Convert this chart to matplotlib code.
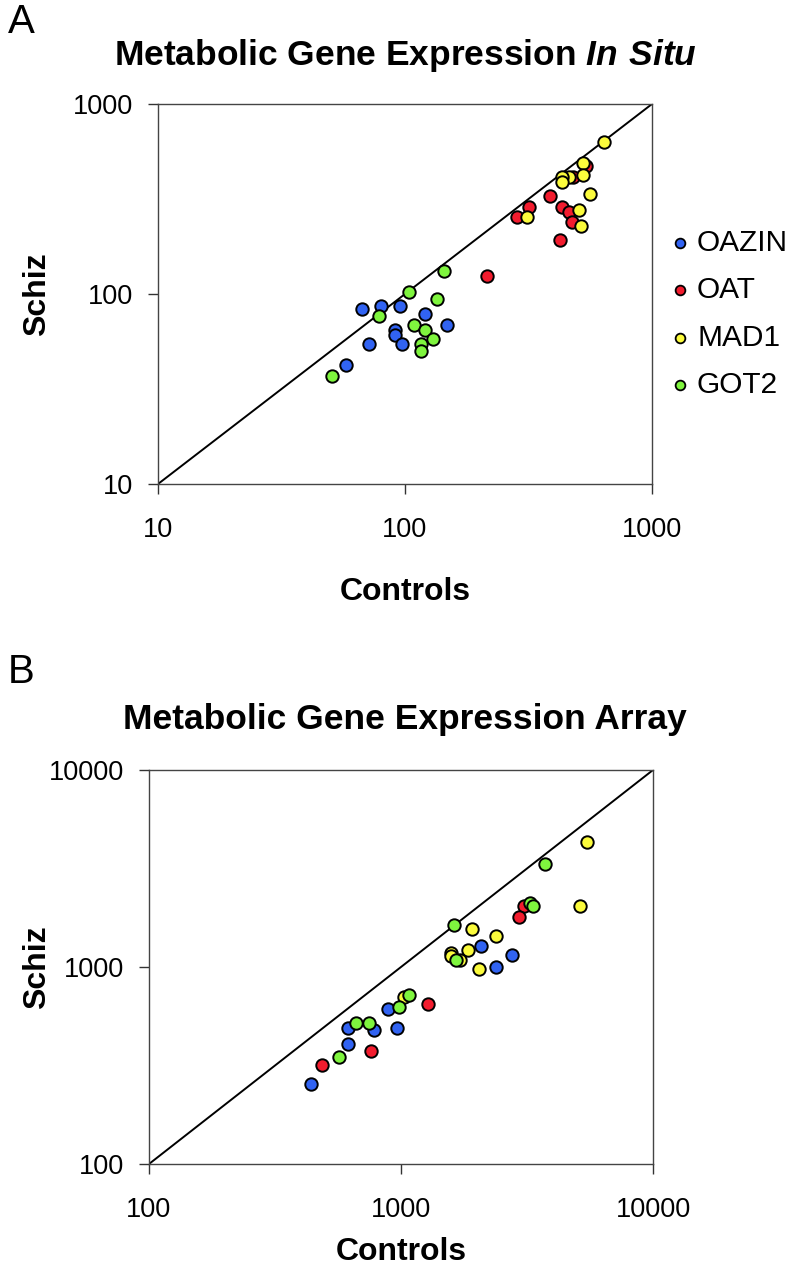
import matplotlib
matplotlib.use("Agg")
import matplotlib.pyplot as plt
from matplotlib.ticker import FixedLocator, NullLocator, FixedFormatter
from matplotlib.lines import Line2D

plt.rcParams['font.family'] = ['Liberation Sans', 'DejaVu Sans']
plt.rcParams['mathtext.fontset'] = 'custom'
plt.rcParams['mathtext.bfit'] = 'Liberation Sans:italic:bold'
plt.rcParams['mathtext.rm'] = 'Liberation Sans:bold'

genes = ['OAZIN', 'OAT', 'MAD1', 'GOT2']
colors = ['#3163f2', '#f21c2e', '#fbfb3c', '#7ff53e']

# panel A, in situ (controls, schiz)
a_oazin_x = [67.0, 79.7, 95.2, 120.8, 147.5, 91.1, 91.1, 71.5, 97.5, 57.7]
a_oazin_y = [83.7, 86.5, 86.5, 78.8, 68.7, 64.6, 61.1, 54.7, 54.7, 42.3]
a_oat_x = [540, 480, 386, 317, 284, 432, 460, 473, 423, 214]
a_oat_y = [473, 411, 328, 286, 254, 286, 269, 239, 192, 125]
a_mad1_x = [637, 526, 526, 461, 434, 431, 563, 311, 505, 516]
a_mad1_y = [633, 489, 423, 411, 411, 390, 337, 254, 278, 227]
a_got2_x = [143.9, 103.8, 135.1, 78.3, 108.4, 120.8, 129.4, 116.1, 116.1, 50.6]
a_got2_y = [132, 102.4, 93.8, 76.9, 68.7, 64.6, 57.8, 54.6, 49.9, 37.0]

# panel B, array
b_oazin_x = [2084, 2754, 2374, 886, 617, 782, 967, 617, 438]
b_oazin_y = [1283, 1151, 1003, 610, 490, 477, 490, 405, 254]
b_oat_x = [3064, 2935, 1275, 763, 487]
b_oat_y = [2040, 1787, 649, 373, 317]
b_mad1_x = [5470, 5131, 1913, 2374, 1576, 1576, 1840, 1722, 2047, 1031]
b_mad1_y = [4295, 2040, 1554, 1432, 1178, 1141, 1215, 1085, 973, 702]
b_got2_x = [3719, 3265, 3355, 1616, 1650, 1076, 985, 660, 749, 567]
b_got2_y = [3346, 2105, 2040, 1640, 1085, 723, 629, 520, 520, 348]

a_ticks = [10, 100, 1000]
b_ticks = [100, 1000, 10000]

fig = plt.figure(figsize=(7.99, 12.8), dpi=100)

def panel(rect, xs, ys, ticks, ylab_x, xlab_y):
    ax = fig.add_axes(rect)
    ax.set_xscale('log')
    ax.set_yscale('log')
    lo, hi = ticks[0], ticks[-1]
    ax.plot([lo, hi], [lo, hi], color='black', lw=1.4, zorder=1)
    for x, y, c in zip(xs, ys, colors):
        ax.scatter(x, y, s=80, c=c, edgecolors='black', linewidths=1.4, zorder=3)
    ax.set_xlim(lo, hi)
    ax.set_ylim(lo, hi)
    for a in (ax.xaxis, ax.yaxis):
        a.set_major_locator(FixedLocator(ticks))
        a.set_minor_locator(NullLocator())
        a.set_major_formatter(FixedFormatter([str(t) for t in ticks]))
    ax.tick_params(axis='x', direction='out', length=7, width=1, labelsize=19.5, pad=17, colors='#333333', labelcolor='black')
    ax.tick_params(axis='y', direction='out', length=7, width=1, labelsize=19.5, pad=11, colors='#333333', labelcolor='black')
    for sp in ax.spines.values():
        sp.set_color('#444444')
        sp.set_linewidth(1.0)
    ax.set_xlabel('Controls', fontsize=23, fontweight='bold')
    ax.set_ylabel('Schiz', fontsize=23, fontweight='bold')
    ax.yaxis.set_label_coords(ylab_x, 0.5)
    ax.xaxis.set_label_coords(0.5, xlab_y)
    return ax

axA = panel([158/799, 1 - 484/1280, 494/799, 380/1280],
            [a_oazin_x, a_oat_x, a_mad1_x, a_got2_x],
            [a_oazin_y, a_oat_y, a_mad1_y, a_got2_y], a_ticks, -0.215, -(577 - 484) / 380)
axB = panel([149/799, 1 - 1164/1280, 504/799, 394/1280],
            [b_oazin_x, b_oat_x, b_mad1_x, b_got2_x],
            [b_oazin_y, b_oat_y, b_mad1_y, b_got2_y], b_ticks, -0.192, -(1237 - 1164) / 394)

fig.text(405/799, 1 - 56/1280, 'Metabolic Gene Expression $\\mathbfit{In\\ Situ}$',
         ha='center', va='center', fontsize=25.5, fontweight='bold')
fig.text(405/799, 1 - 720/1280, 'Metabolic Gene Expression Array',
         ha='center', va='center', fontsize=25.5, fontweight='bold')
fig.text(8/799, 1 - 22/1280, 'A', fontsize=29, va='center', ha='left')
fig.text(8/799, 1 - 672/1280, 'B', fontsize=29, va='center', ha='left')

# legend
leg_y = [243, 290, 338, 385]
for g, c, y in zip(genes, colors, leg_y):
    fig.lines.append(Line2D([680/799], [1 - y/1280], transform=fig.transFigure,
                            marker='o', ms=7, mfc=c, mec='black', mew=1.3, ls=''))
    fig.text(697/799, 1 - y/1280, g, fontsize=21.5, va='center', ha='left')

fig.savefig('out.png', dpi=100)
